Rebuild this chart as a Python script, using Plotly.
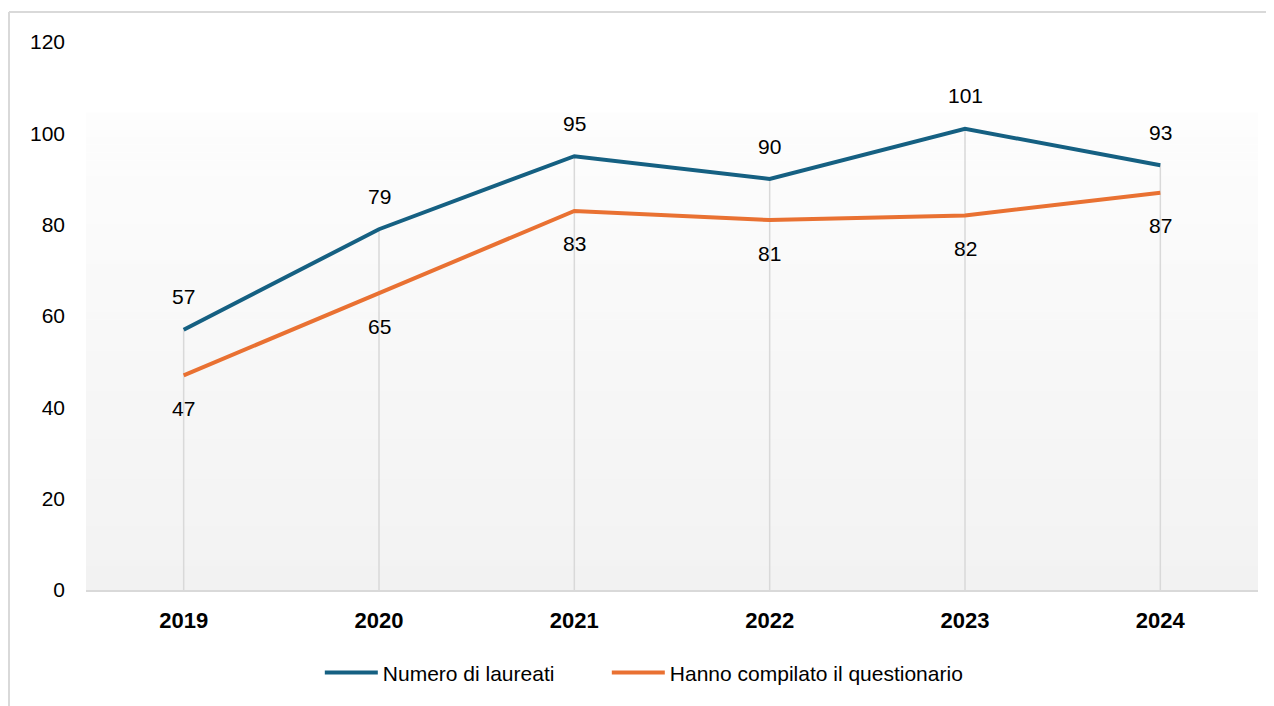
import plotly.graph_objects as go

years = ["2019", "2020", "2021", "2022", "2023", "2024"]
laureati = [57, 79, 95, 90, 101, 93]
compilato = [47, 65, 83, 81, 82, 87]
name_laureati = "Numero di laureati"
name_compilato = "Hanno compilato il questionario"
y_ticks = [0, 20, 40, 60, 80, 100, 120]

BLUE = "#156082"
ORANGE = "#E97132"
GRID = "#D9D9D9"
FONT = "Liberation Sans, Arial, sans-serif"

fig = go.Figure()

# drop lines from highest point down to the axis
dx, dy = [], []
for i, (a, b) in enumerate(zip(laureati, compilato)):
    dx += [i, i, None]
    dy += [0, max(a, b), None]
fig.add_trace(go.Scatter(x=dx, y=dy, mode="lines", line=dict(color=GRID, width=1.5),
                         showlegend=False, hoverinfo="skip"))

idx = list(range(len(years)))
fig.add_trace(go.Scatter(x=idx, y=laureati, mode="lines", name=name_laureati,
                         line=dict(color=BLUE, width=4), legendwidth=219))
fig.add_trace(go.Scatter(x=idx, y=compilato, mode="lines", name=name_compilato,
                         line=dict(color=ORANGE, width=4), legendwidth=380))

for i, v in enumerate(laureati):
    fig.add_annotation(x=i, y=v, text=str(v), showarrow=False, yshift=33,
                       font=dict(family=FONT, size=21, color="#000000"))
for i, v in enumerate(compilato):
    fig.add_annotation(x=i, y=v, text=str(v), showarrow=False, yshift=-33,
                       font=dict(family=FONT, size=21, color="#000000"))

# gradient plot-area background (white -> light gray)
shapes = []
n = 60
top = 0.8704
for i in range(n):
    y0 = top * i / n
    y1 = top * (i + 1) / n
    t = (i + 0.5) / n  # 0 bottom, 1 top
    c = int(round(0xF2 + (0xFD - 0xF2) * t))
    col = f"rgb({c},{c},{c})"
    shapes.append(dict(type="rect", xref="paper", yref="paper", x0=0, x1=1, y0=y0, y1=y1 + 0.001,
                       fillcolor=col, line=dict(width=0), layer="below"))
# chart border (top and left visible)
shapes.append(dict(type="line", xref="paper", yref="paper", x0=-0.0657, x1=1.05, y0=1.0547, y1=1.0547,
                   line=dict(color=GRID, width=2)))
shapes.append(dict(type="line", xref="paper", yref="paper", x0=-0.0657, x1=-0.0657, y0=1.0547, y1=-0.25,
                   line=dict(color=GRID, width=2)))

fig.update_layout(
    width=1266, height=698,
    margin=dict(l=78, r=16, t=34, b=116),
    paper_bgcolor="white", plot_bgcolor="rgba(0,0,0,0)",
    shapes=shapes,
    showlegend=True,
    legend=dict(orientation="h", x=0.1995, xanchor="left", y=-0.151, yanchor="middle",
                font=dict(family=FONT, size=21, color="#000000"),
                itemwidth=53, tracegroupgap=0),
    xaxis=dict(type="linear", range=[-0.5, 5.5], tickvals=idx, ticktext=years,
               showgrid=False, zeroline=False,
               showline=True, linecolor=GRID, linewidth=2, ticks="",
               tickfont=dict(family=FONT, size=22, color="#000000", weight="bold"),
               ticklabelstandoff=10),
    yaxis=dict(range=[0, 120], tickvals=y_ticks, showgrid=False, zeroline=False, showline=False,
               ticks="", tickfont=dict(family=FONT, size=21, color="#000000"),
               ticklabelstandoff=20),
)

fig.write_html("out.html")
